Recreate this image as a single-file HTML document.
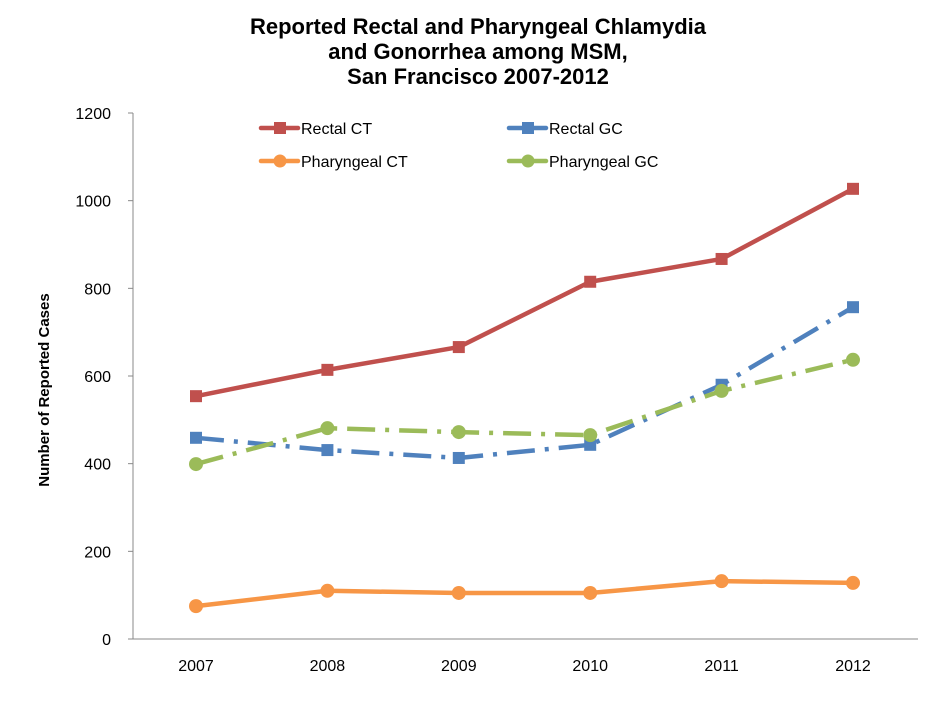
<!DOCTYPE html>
<html><head><meta charset="utf-8"><style>
body{margin:0;background:#fff;}
svg text{font-family:"Liberation Sans",sans-serif;}
</style></head><body>
<svg id="chart" width="951" height="707" xmlns="http://www.w3.org/2000/svg">
<rect width="951" height="707" fill="#fff"/>
<g font-weight="bold" font-size="22" text-anchor="middle" fill="#000">
<text x="478" y="34">Reported Rectal and Pharyngeal Chlamydia</text>
<text x="478" y="59">and Gonorrhea among MSM,</text>
<text x="478" y="84">San Francisco 2007-2012</text>
</g>
<text transform="translate(49,390) rotate(-90)" text-anchor="middle" font-weight="bold" font-size="15">Number of Reported Cases</text>
<g id="axes"></g>
<g id="series"></g>
<g id="legend"></g>
</svg>
<script>
const years = ["2007","2008","2009","2010","2011","2012"];
const yTicks = [0,200,400,600,800,1000,1200];
const rectalCT = [554,614,666,815,867,1027];
const rectalGC = [459,431,413,443,580,757];
const pharCT = [75,110,105,105,132,128];
const pharGC = [399,481,472,465,566,637];
const seriesNames = ["Rectal CT","Rectal GC","Pharyngeal CT","Pharyngeal GC"];

const NS="http://www.w3.org/2000/svg";
function x(i){return 196+i*131.4;}
function y(v){return 639-v*(526/1200);}
function mk(tag,attrs,parent){const e=document.createElementNS(NS,tag);for(const k in attrs)e.setAttribute(k,attrs[k]);parent.appendChild(e);return e;}
const axes=document.getElementById('axes');
let yl=mk('line',{x1:133,y1:y(1200),x2:133,y2:639,stroke:'#888','stroke-width':1},axes);


let xl=mk('line',{x1:133,y1:639,x2:918,y2:639,stroke:'#888','stroke-width':1},axes);


yTicks.forEach(v=>{
  let t=mk('text',{x:111,y:y(v)+6,'text-anchor':'end','font-size':16},axes);t.textContent=v;
  
  
  mk('line',{x1:128,y1:y(v),x2:133,y2:y(v),stroke:'#888'},axes);
});
years.forEach((yr,i)=>{
  let t=mk('text',{x:x(i),y:671,'text-anchor':'middle','font-size':16},axes);t.textContent=yr;
  
  
});
const cfg=[
 {d:rectalCT,c:'#c0504d',m:'sq',dash:''},
 {d:rectalGC,c:'#4f81bd',m:'sq',dash:'28,10,4,10'},
 {d:pharCT,c:'#f79646',m:'ci',dash:''},
 {d:pharGC,c:'#9bbb59',m:'ci',dash:'28,10,4,10'}];
const sg=document.getElementById('series');
cfg.forEach((s,k)=>{
  const g=mk('g',{},sg);
  
  
  const pts=s.d.map((v,i)=>x(i)+','+y(v)).join(' ');
  mk('polyline',{points:pts,fill:'none',stroke:s.c,'stroke-width':4.5,'stroke-dasharray':s.dash,'stroke-linejoin':'round'},g);
  s.d.forEach((v,i)=>{
    let p;
    if(s.m==='sq')p=mk('rect',{x:x(i)-6,y:y(v)-6,width:12,height:12,fill:s.c},g);
    else p=mk('circle',{cx:x(i),cy:y(v),r:7,fill:s.c},g);
    
    
  });
});
const lg=document.getElementById('legend');
const lpos=[[261,128],[509,128],[261,161],[509,161]];
cfg.forEach((s,k)=>{
  const [lx,ly]=lpos[k];
  const g=mk('g',{},lg);
  
  
  mk('line',{x1:lx,y1:ly,x2:lx+37,y2:ly,stroke:s.c,'stroke-width':4.5,'stroke-linecap':'round'},g);
  if(s.m==='sq')mk('rect',{x:lx+13,y:ly-6,width:12,height:12,fill:s.c},g);
  else mk('circle',{cx:lx+19,cy:ly,r:6.5,fill:s.c},g);
  const t=mk('text',{x:lx+40,y:ly+6,'font-size':16},g);t.textContent=seriesNames[k];
});
</script>
</body></html>
